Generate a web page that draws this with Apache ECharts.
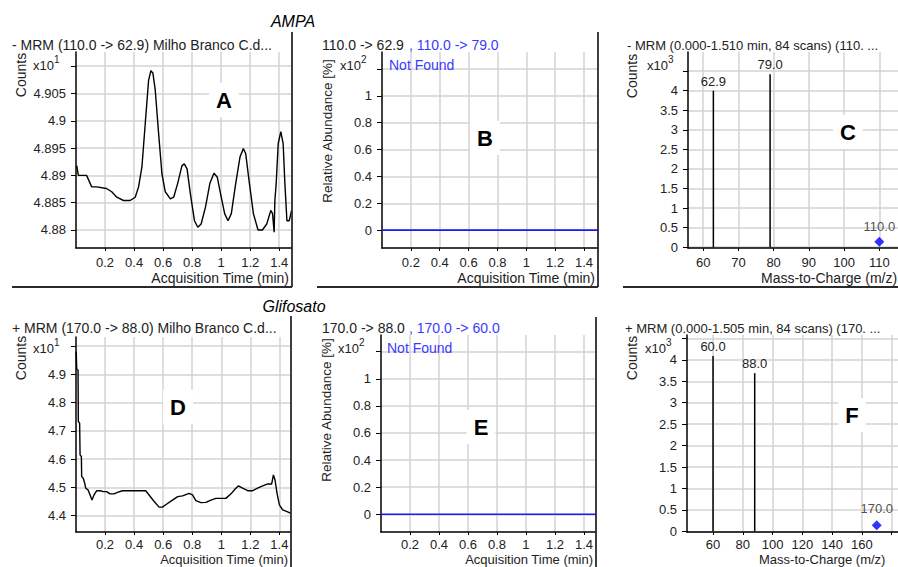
<!DOCTYPE html>
<html><head><meta charset="utf-8">
<script src="https://cdn.jsdelivr.net/npm/echarts@6/dist/echarts.min.js"></script>
<style>html,body{margin:0;padding:0;background:#fff}#c{width:898px;height:567px}</style>
</head><body><div id="c"></div>
<script>
// ---- data ----
const aTime = [0.005,0.016,0.073,0.108,0.142,0.21,0.246,0.281,0.327,0.373,0.408,0.431,0.454,0.477,0.50,0.516,0.530,0.546,0.569,0.592,0.615,0.650,0.673,0.70,0.73,0.746,0.765,0.788,0.816,0.839,0.862,0.892,0.922,0.950,0.973,0.996,1.024,1.047,1.07,1.10,1.13,1.153,1.169,1.192,1.222,1.254,1.284,1.314,1.342,1.354,1.365,1.37,1.379,1.393,1.411,1.427,1.439,1.453,1.469,1.485];
const aCounts = [4.8918,4.8900,4.8900,4.8879,4.8879,4.8876,4.8870,4.8860,4.8854,4.8854,4.8860,4.8879,4.8915,4.8995,4.9074,4.9092,4.9087,4.9056,4.8977,4.8903,4.8870,4.8857,4.8860,4.8885,4.8918,4.8921,4.8912,4.8866,4.8817,4.8805,4.8811,4.8842,4.8885,4.8904,4.8897,4.8866,4.8830,4.8817,4.8830,4.8885,4.8934,4.8949,4.8940,4.8891,4.8830,4.8800,4.8800,4.8811,4.8836,4.8830,4.8796,4.8854,4.8885,4.8958,4.8980,4.8958,4.8885,4.8817,4.8817,4.8836];
const bTime = [0, 1.497];
const bAbundance = [0, 0];
const cMz = [62.9, 79.0];
const cCounts = [4.0, 4.42];
const cPrecursorMz = [110.0];
const cPrecursorCounts = [0.14];
const dTime = [0.0,0.002,0.005,0.014,0.016,0.025,0.028,0.037,0.039,0.05,0.06,0.067,0.083,0.097,0.110,0.124,0.143,0.166,0.189,0.211,0.234,0.262,0.29,0.32,0.354,0.4,0.446,0.48,0.503,0.538,0.572,0.595,0.625,0.664,0.70,0.733,0.779,0.802,0.825,0.86,0.894,0.929,0.963,0.998,1.032,1.067,1.094,1.117,1.147,1.182,1.216,1.25,1.285,1.32,1.347,1.359,1.37,1.384,1.40,1.423,1.453,1.48];
const dCounts = [4.98,4.974,4.918,4.915,4.733,4.727,4.615,4.609,4.538,4.532,4.514,4.497,4.491,4.473,4.455,4.473,4.488,4.488,4.485,4.485,4.477,4.477,4.483,4.488,4.488,4.488,4.488,4.488,4.473,4.45,4.43,4.43,4.441,4.455,4.467,4.470,4.479,4.473,4.453,4.446,4.447,4.455,4.461,4.461,4.461,4.477,4.493,4.505,4.497,4.488,4.488,4.497,4.505,4.512,4.512,4.544,4.526,4.479,4.438,4.42,4.414,4.408];
const eTime = [0, 1.483];
const eAbundance = [0, 0];
const fMz = [60.0, 88.0];
const fCounts = [4.09, 3.69];
const fPrecursorMz = [170.0];
const fPrecursorCounts = [0.14];

// ---- tick values ----
const timeTicks = [0.2,0.4,0.6,0.8,1.0,1.2,1.4];
const aYTicks = [4.88,4.885,4.89,4.895,4.9,4.905,4.91];
const aYLabels = [4.88,4.885,4.89,4.895,4.9,4.905];
const relTicks = [0,0.2,0.4,0.6,0.8,1.0,1.2];
const relLabels = [0,0.2,0.4,0.6,0.8,1.0];
const cXTicks = [60,70,80,90,100,110];
const countTicks = [0,0.5,1,1.5,2,2.5,3,3.5,4,4.5];
const countLabels = [0,0.5,1,1.5,2,2.5,3,3.5,4];
const dYTicks = [4.4,4.5,4.6,4.7,4.8,4.9,5.0];
const dYLabels = [4.4,4.5,4.6,4.7,4.8,4.9];
const fXTicks = [60,80,100,120,140,160,180];
const fXLabels = [60,80,100,120,140,160];

// ---- text ----
const titleTop = 'AMPA';
const titleBottom = 'Glifosato';
const headerA = '- MRM (110.0 -> 62.9) Milho Branco C.d...';
const headerB1 = '110.0 -> 62.9', headerB2 = ', 110.0 -> 79.0';
const headerC = '- MRM (0.000-1.510 min, 84 scans) (110. ...';
const headerD = '+ MRM (170.0 -> 88.0) Milho Branco C.d...';
const headerE1 = '170.0 -> 88.0', headerE2 = ', 170.0 -> 60.0';
const headerF = '+ MRM (0.000-1.505 min, 84 scans) (170. ...';

const FONT = '"Liberation Sans", Arial, sans-serif';
const TXT = '#222';
const BLUE = '#3a3aff';
const GRID = '#d3d3d3';
const zip = (a, b) => a.map((v, i) => [v, b[i]]);
const fmt = v => String(parseFloat(Number(v).toFixed(4)));

function xAxis(gi, min, max, ticks, labels, margin) {
  return {
    type: 'value', gridIndex: gi, min, max,
    axisLine: {show: true, onZero: false, lineStyle: {color: '#000', width: 1.5}},
    axisTick: {show: true, length: 3, customValues: ticks, lineStyle: {color: '#000'}},
    axisLabel: {customValues: labels, formatter: fmt, color: TXT, fontSize: 13, fontFamily: FONT, margin: margin},
    splitLine: {show: true, lineStyle: {color: GRID, width: 1.5}}
  };
}
function yAxis(gi, min, max, ticks, labels) {
  return {
    type: 'value', gridIndex: gi, min, max,
    axisLine: {show: true, onZero: false, lineStyle: {color: '#000', width: 1.5}},
    axisTick: {show: true, length: 5, customValues: ticks, lineStyle: {color: '#000'}},
    axisLabel: {customValues: labels, formatter: fmt, color: TXT, fontSize: 13, fontFamily: FONT, margin: 10},
    splitLine: {show: true, lineStyle: {color: GRID, width: 1.5}}
  };
}

function txt(x, y, text, opt) {
  opt = opt || {};
  return {
    type: 'text', x, y, rotation: opt.rotation || 0, z: 100,
    style: Object.assign({
      text, fill: opt.color || TXT,
      font: opt.font || ('14px ' + FONT),
      textAlign: opt.align || 'left', textVerticalAlign: 'middle'
    }, opt.extra || {})
  };
}
function line(x1, y1, x2, y2) {
  return {type: 'line', z: 100, shape: {x1, y1, x2, y2}, style: {stroke: '#2a2a2a', lineWidth: 1.8}};
}
function letter(x, y, t) {
  return txt(x, y, t, {font: 'bold 22px ' + FONT, color: '#000', align: 'center',
    extra: {backgroundColor: '#fff', padding: [6, 7, 6, 7]}});
}
function x10(x, y, p) {
  return [txt(x, y, 'x10', {font: '13px ' + FONT}), txt(x + 21, y - 6, p, {font: '10px ' + FONT})];
}

const chart = echarts.init(document.getElementById('c'), null, {renderer: 'svg'});
chart.setOption({
  animation: false,
  backgroundColor: '#fff',
  grid: [
    {left: 76, top: 52, width: 216, height: 196, outerBoundsMode: 'none'},
    {left: 382, top: 52, width: 216, height: 196, outerBoundsMode: 'none'},
    {left: 688, top: 52, width: 210, height: 196, outerBoundsMode: 'none'},
    {left: 76, top: 337, width: 215, height: 195, outerBoundsMode: 'none'},
    {left: 381, top: 335, width: 215, height: 197, outerBoundsMode: 'none'},
    {left: 687, top: 335, width: 211, height: 197, outerBoundsMode: 'none'}
  ],
  xAxis: [
    xAxis(0, 0, 1.488, timeTicks, timeTicks, 8),
    xAxis(1, 0, 1.497, timeTicks, timeTicks, 8),
    xAxis(2, 55.7, 115.3, cXTicks, cXTicks, 8),
    xAxis(3, 0, 1.48, timeTicks, timeTicks, 6),
    xAxis(4, 0, 1.483, timeTicks, timeTicks, 6),
    xAxis(5, 42.5, 184.3, fXTicks, fXLabels, 6)
  ],
  yAxis: [
    yAxis(0, 4.8767, 4.9126, aYTicks, aYLabels),
    yAxis(1, -0.133, 1.326, relTicks, relLabels),
    yAxis(2, -0.02, 4.99, countTicks, countLabels),
    yAxis(3, 4.342, 5.032, dYTicks, dYLabels),
    yAxis(4, -0.131, 1.323, relTicks, relLabels),
    yAxis(5, -0.016, 4.58, countTicks, countLabels)
  ],
  series: [
    {type: 'line', xAxisIndex: 0, yAxisIndex: 0, data: zip(aTime, aCounts), symbol: 'none', lineStyle: {color: '#000', width: 1.4}},
    {type: 'line', xAxisIndex: 1, yAxisIndex: 1, data: zip(bTime, bAbundance), symbol: 'none', lineStyle: {color: '#1a1aff', width: 1.6}},
    {type: 'bar', xAxisIndex: 2, yAxisIndex: 2, data: zip(cMz, cCounts), barWidth: 1.5, itemStyle: {color: '#000'},
      label: {show: true, position: 'top', distance: 3, color: TXT, fontSize: 13, fontFamily: FONT, formatter: p => p.value[0].toFixed(1)}},
    {type: 'scatter', xAxisIndex: 2, yAxisIndex: 2, data: zip(cPrecursorMz, cPrecursorCounts), symbol: 'diamond', symbolSize: 10, itemStyle: {color: '#0000ff'},
      label: {show: true, position: 'top', distance: 4, color: TXT, fontSize: 13, fontFamily: FONT, formatter: p => p.value[0].toFixed(1)}},
    {type: 'line', xAxisIndex: 3, yAxisIndex: 3, data: zip(dTime, dCounts), symbol: 'none', lineStyle: {color: '#000', width: 1.4}},
    {type: 'line', xAxisIndex: 4, yAxisIndex: 4, data: zip(eTime, eAbundance), symbol: 'none', lineStyle: {color: '#1a1aff', width: 1.6}},
    {type: 'bar', xAxisIndex: 5, yAxisIndex: 5, data: zip(fMz, fCounts), barWidth: 1.5, itemStyle: {color: '#000'},
      label: {show: true, position: 'top', distance: 3, color: TXT, fontSize: 13, fontFamily: FONT, formatter: p => p.value[0].toFixed(1)}},
    {type: 'scatter', xAxisIndex: 5, yAxisIndex: 5, data: zip(fPrecursorMz, fPrecursorCounts), symbol: 'diamond', symbolSize: 10, itemStyle: {color: '#0000ff'},
      label: {show: true, position: 'top', distance: 5, color: TXT, fontSize: 13, fontFamily: FONT, formatter: p => p.value[0].toFixed(1)}}
  ],
  graphic: [].concat(
    [
      txt(293, 21, titleTop, {font: 'italic 16px ' + FONT, color: '#000', align: 'center'}),
      txt(294, 306, titleBottom, {font: 'italic 16px ' + FONT, color: '#000', align: 'center'}),
      txt(12, 45, headerA),
      txt(322, 45, headerB1), txt(409, 45, headerB2, {color: BLUE}),
      txt(627, 45, headerC, {font: '13px ' + FONT}),
      txt(12, 328, headerD),
      txt(322, 328, headerE1), txt(409, 328, headerE2, {color: BLUE}),
      txt(625, 328, headerF, {font: '13px ' + FONT}),
      txt(389, 65, 'Not Found', {color: BLUE}),
      txt(387, 348, 'Not Found', {color: BLUE}),
      txt(21, 75, 'Counts', {rotation: Math.PI / 2, align: 'center'}),
      txt(327, 131, 'Relative Abundance [%]', {rotation: Math.PI / 2, align: 'center', font: '13.5px ' + FONT}),
      txt(632, 76, 'Counts', {rotation: Math.PI / 2, align: 'center'}),
      txt(21, 358, 'Counts', {rotation: Math.PI / 2, align: 'center'}),
      txt(326, 410, 'Relative Abundance [%]', {rotation: Math.PI / 2, align: 'center', font: '13.5px ' + FONT}),
      txt(632, 358, 'Counts', {rotation: Math.PI / 2, align: 'center'}),
      txt(289, 278, 'Acquisition Time (min)', {align: 'right'}),
      txt(595, 278, 'Acquisition Time (min)', {align: 'right'}),
      txt(761, 278, 'Mass-to-Charge (m/z)'),
      txt(288, 559.5, 'Acquisition Time (min)', {align: 'right', font: '13px ' + FONT}),
      txt(593, 559.5, 'Acquisition Time (min)', {align: 'right', font: '13px ' + FONT}),
      txt(759, 559.5, 'Mass-to-Charge (m/z)', {font: '13px ' + FONT}),
      letter(224, 100, 'A'), letter(485, 138, 'B'), letter(848, 132, 'C'),
      letter(178, 407, 'D'), letter(481, 427, 'E'), letter(852, 415, 'F'),
      line(292, 32, 292, 287), line(598, 32, 598, 287),
      line(12, 287, 292, 287), line(317, 287, 598, 287), line(623, 287, 898, 287),
      line(291, 316, 291, 567), line(596, 317, 596, 567)
    ],
    x10(33, 65, '1'), x10(340, 65, '2'), x10(647, 65, '3'),
    x10(33, 348, '1'), x10(338, 348, '2'), x10(645, 348, '3')
  )
});
</script></body></html>
